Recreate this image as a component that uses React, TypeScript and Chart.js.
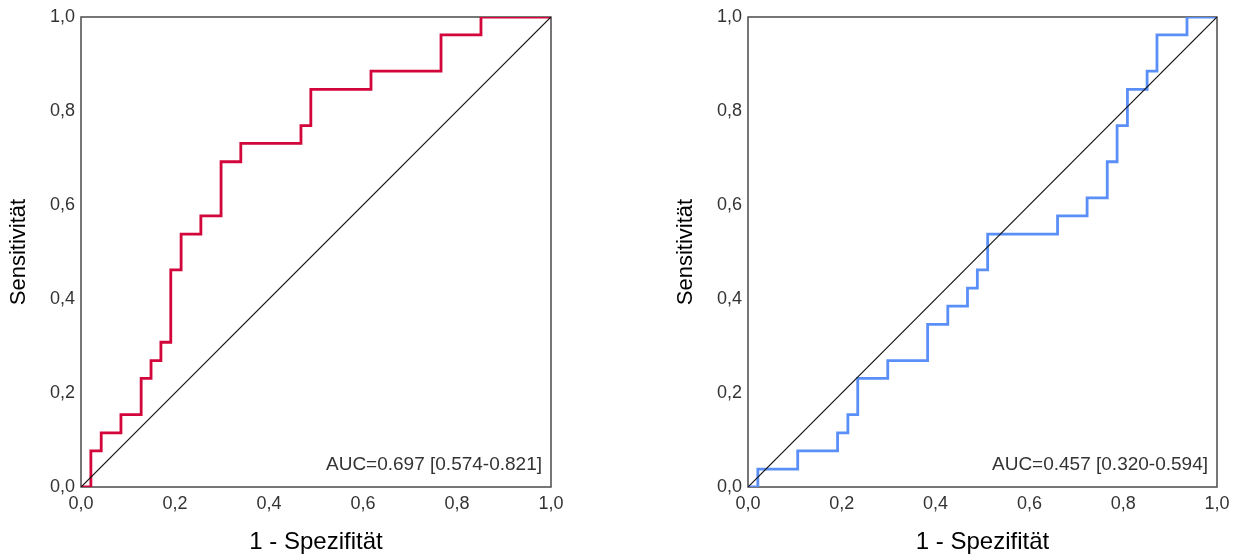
import React, { useEffect, useRef } from "react";
import { Chart, registerables } from "chart.js";

Chart.register(...registerables);

// ---- data ----
const tickValues = [0, 0.2, 0.4, 0.6, 0.8, 1.0];
const tickLabels = ["0,0", "0,2", "0,4", "0,6", "0,8", "1,0"];

const leftFpr = [0, 0.021, 0.043, 0.085, 0.128, 0.149, 0.17, 0.191, 0.213, 0.255, 0.298, 0.34, 0.468, 0.489, 0.617, 0.766, 0.851, 1.0];
const leftTpr = [0, 0.077, 0.115, 0.154, 0.231, 0.269, 0.308, 0.462, 0.538, 0.577, 0.692, 0.731, 0.769, 0.846, 0.885, 0.962, 1.0, 1.0];

const rightFpr = [0, 0.021, 0.106, 0.191, 0.213, 0.234, 0.298, 0.383, 0.426, 0.468, 0.489, 0.511, 0.66, 0.723, 0.766, 0.787, 0.809, 0.851, 0.872, 0.936, 1.0];
const rightTpr = [0, 0.038, 0.077, 0.115, 0.154, 0.231, 0.269, 0.346, 0.385, 0.423, 0.462, 0.538, 0.577, 0.615, 0.692, 0.769, 0.846, 0.885, 0.962, 1.0, 1.0];

const diagonalX = [0, 1];
const diagonalY = [0, 1];

const leftAuc = "AUC=0.697 [0.574-0.821]";
const rightAuc = "AUC=0.457 [0.320-0.594]";
const xTitle = "1 - Spezifität";
const yTitle = "Sensitivität";

const FONT = "'Liberation Sans', Arial, sans-serif";
const H = 559;

type Props = {
  fpr: number[];
  tpr: number[];
  color: string;
  auc: string;
  left: number;
  width: number;
  padRight: number;
};

function RocChart({ fpr, tpr, color, auc, left, width, padRight }: Props) {
  const ref = useRef<HTMLCanvasElement | null>(null);

  useEffect(() => {
    if (!ref.current) return;
    const curve = fpr.map((x, i) => ({ x, y: tpr[i] }));
    const diag = diagonalX.map((x, i) => ({ x, y: diagonalY[i] }));

    const framePlugin = {
      id: "frame",
      beforeDatasetsDraw(chart: any) {
        const { ctx, chartArea } = chart;
        ctx.save();
        ctx.strokeStyle = "#4a4a4a";
        ctx.lineWidth = 1.5;
        ctx.strokeRect(chartArea.left, chartArea.top, chartArea.right - chartArea.left, chartArea.bottom - chartArea.top);
        ctx.restore();
      },
      afterDatasetsDraw(chart: any) {
        const { ctx, chartArea } = chart;
        ctx.save();
        ctx.fillStyle = "#333333";
        ctx.font = `19px ${FONT}`;
        ctx.textAlign = "right";
        ctx.textBaseline = "middle";
        ctx.fillText(auc, chartArea.right - 9, chartArea.bottom - 22);
        ctx.restore();
      },
    };

    const chart = new Chart(ref.current, {
      type: "line",
      data: {
        datasets: [
          {
            data: diag,
            borderColor: "#111111",
            borderWidth: 1.2,
            pointRadius: 0,
            fill: false,
          },
          {
            data: curve,
            borderColor: color,
            borderWidth: 2.8,
            pointRadius: 0,
            stepped: "before",
            fill: false,
          },
        ],
      },
      options: {
        animation: false,
        responsive: false,
        maintainAspectRatio: false,
        layout: { padding: { left: 0, right: padRight, top: 17, bottom: 0 } },
        plugins: { legend: { display: false }, tooltip: { enabled: false } },
        scales: {
          x: {
            type: "linear",
            min: 0,
            max: 1,
            afterBuildTicks: (scale: any) => {
              scale.ticks = tickValues.map((v) => ({ value: v }));
            },
            afterFit: (scale: any) => {
              scale.height = 72;
              scale.paddingLeft = 0;
              scale.paddingRight = 0;
            },
            grid: { display: false, drawTicks: false },
            border: { display: false },
            ticks: {
              padding: 6,
              color: "#333333",
              font: { family: FONT, size: 18 },
              maxRotation: 0,
              callback: (v: any) => tickLabels[tickValues.findIndex((t) => Math.abs(t - Number(v)) < 1e-6)],
            },
            title: {
              display: true,
              text: xTitle,
              color: "#000000",
              font: { family: FONT, size: 24 },
              padding: { top: 4, bottom: 2 },
            },
          },
          y: {
            type: "linear",
            min: 0,
            max: 1,
            afterBuildTicks: (scale: any) => {
              scale.ticks = tickValues.map((v) => ({ value: v }));
            },
            afterFit: (scale: any) => {
              scale.width = 81;
              scale.paddingTop = 0;
              scale.paddingBottom = 0;
            },
            grid: { display: false, drawTicks: false },
            border: { display: false },
            ticks: {
              padding: 6,
              color: "#333333",
              font: { family: FONT, size: 18 },
              callback: (v: any) => tickLabels[tickValues.findIndex((t) => Math.abs(t - Number(v)) < 1e-6)],
            },
            title: {
              display: true,
              text: yTitle,
              color: "#000000",
              font: { family: FONT, size: 22 },
              padding: { top: 6, bottom: 4 },
            },
          },
        },
      },
      plugins: [framePlugin],
    } as any);

    return () => chart.destroy();
  }, [fpr, tpr, color, auc, padRight]);

  return (
    <div style={{ position: "absolute", left, top: 0, width, height: H }}>
      <canvas ref={ref} width={width} height={H} style={{ width, height: H, display: "block" }} />
    </div>
  );
}

export default function App() {
  return (
    <div style={{ position: "fixed", left: 0, top: 0, width: 1240, height: H, background: "#ffffff" }}>
      <RocChart fpr={leftFpr} tpr={leftTpr} color="#d2063a" auc={leftAuc} left={0} width={620} padRight={69} />
      <RocChart fpr={rightFpr} tpr={rightTpr} color="#5a8ff7" auc={rightAuc} left={667} width={573} padRight={23} />
    </div>
  );
}
